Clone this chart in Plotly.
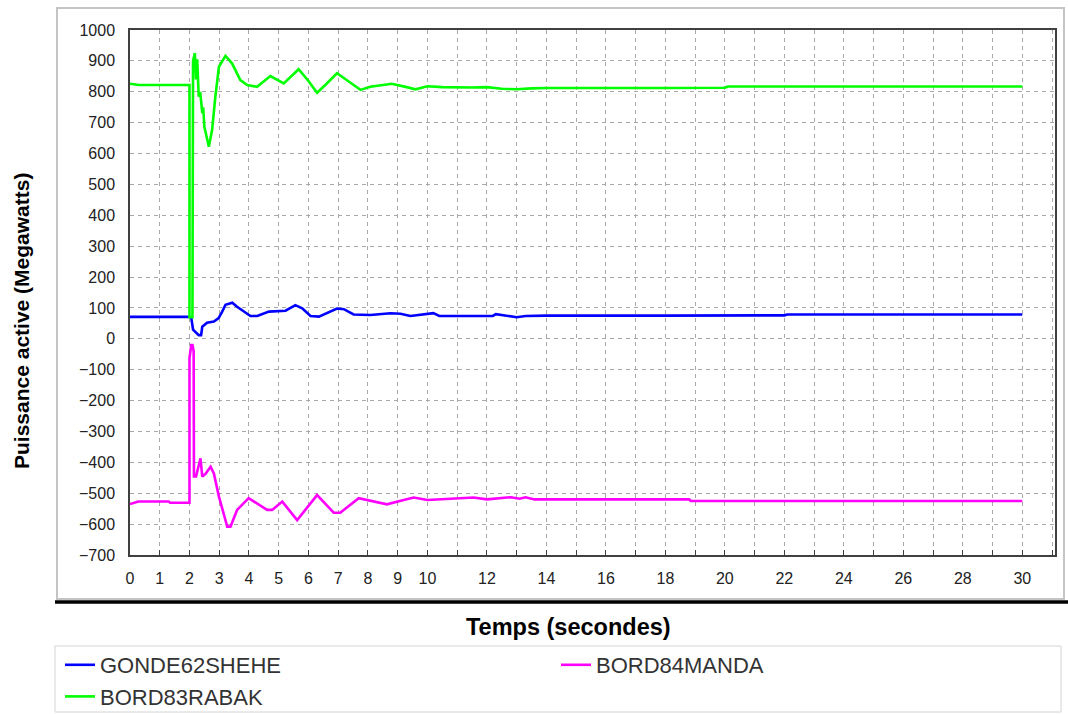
import plotly.graph_objects as go

# values (time in s, power in MW)
gonde_t = [0, 2.0, 2.06, 2.12, 2.31, 2.39, 2.43, 2.59, 2.82, 2.98, 3.10, 3.21, 3.44,
           3.60, 4.05, 4.28, 4.67, 5.23, 5.56, 5.79, 6.07, 6.35, 6.96, 7.19, 7.52,
           8.08, 8.76, 9.09, 9.43, 9.76, 10.2, 10.4, 12.2, 12.3, 12.8, 13.0, 13.3,
           14.0, 18.0, 22.0, 22.1, 30.0]
gonde_v = [71, 71, 68, 30, 12, 12, 39, 52, 56, 67, 88, 110, 117,
           104, 74, 74, 88, 91, 109, 99, 74, 72, 98, 96, 79,
           77, 83, 81, 74, 77, 83, 74, 74, 80, 74, 70, 74,
           75, 75, 76, 79, 79]

rabak_t = [0, 0.3, 2.0, 2.0, 2.1, 2.12, 2.18, 2.22, 2.26, 2.31, 2.36, 2.43, 2.46,
           2.5, 2.65, 2.76, 2.87, 2.99, 3.21, 3.43, 3.71, 3.94, 4.27, 4.72, 5.17,
           5.67, 6.0, 6.29, 6.6, 6.96, 7.4, 7.75, 8.08, 8.8, 9.3, 9.6, 10.0, 10.5,
           11.5, 12.0, 12.5, 13.0, 13.5, 14.0, 18.0, 20.0, 20.1, 25.0, 30.0]
rabak_v = [826, 822, 822, 70, 70, 900, 925, 840, 905, 784, 800, 731, 750,
           687, 622, 676, 784, 881, 916, 892, 838, 822, 816, 851, 827,
           873, 835, 797, 825, 860, 830, 806, 816, 826, 815, 808, 818, 815,
           814, 815, 810, 808, 811, 812, 812, 813, 817, 817, 817]

manda_t = [0, 0.28, 1.3, 1.35, 2.0, 2.0, 2.06, 2.1, 2.14, 2.15, 2.22, 2.31, 2.37,
           2.43, 2.54, 2.71, 2.82, 2.99, 3.27, 3.38, 3.6, 3.99, 4.61, 4.78, 5.12,
           5.62, 6.29, 6.85, 7.07, 7.69, 8.2, 8.64, 9.2, 9.54, 10.0, 10.5, 11.55,
           12.0, 12.8, 13.1, 13.3, 13.6, 14.0, 18.8, 18.85, 30.0]
manda_v = [-535, -527, -527, -531, -531, -62, -20, -20, -40, -446, -446, -414, -387,
           -446, -437, -414, -436, -511, -608, -608, -554, -516, -554, -554, -527,
           -587, -506, -563, -563, -516, -527, -536, -522, -514, -522, -520, -514,
           -520, -513, -518, -513, -520, -520, -520, -525, -525]

x_ticks = list(range(0, 32))
x_labels = [str(i) if (i <= 10 or i % 2 == 0) and i <= 30 else '' for i in x_ticks]
y_ticks = list(range(-700, 1001, 100))

FONT = 'Liberation Sans, Arial, sans-serif'

#----- GEOMETRY (window pixels) ------------------------------------------------
W, H = 1068, 714
L, R, T, B = 130, 1055, 30, 555   # plot area
def px(x): return (x - L) / (R - L)
def py(y): return (B - y) / (B - T)

fig = go.Figure()
# draw order: blue, magenta, green on top; two legends make the two columns
fig.add_trace(go.Scatter(x=gonde_t, y=gonde_v, mode='lines', name='GONDE62SHEHE',
                         line=dict(color='#0000ff', width=2.6), legend='legend', legendrank=1))
fig.add_trace(go.Scatter(x=manda_t, y=manda_v, mode='lines', name='BORD84MANDA',
                         line=dict(color='#ff00ff', width=2.6), legend='legend2'))
fig.add_trace(go.Scatter(x=rabak_t, y=rabak_v, mode='lines', name='BORD83RABAK',
                         line=dict(color='#00ff00', width=2.6), legend='legend', legendrank=2))

#----- FRAMES, SEPARATOR, LEGEND BOX -------------------------------------------
shapes = [
    dict(type='rect', xref='paper', yref='paper', x0=px(57), x1=px(1064),
         y0=py(599), y1=py(8), line=dict(color='#c4c4c4', width=2), layer='below'),
    dict(type='line', xref='paper', yref='paper', x0=px(55), x1=px(1068),
         y0=py(602), y1=py(602), line=dict(color='black', width=3.5)),
    dict(type='rect', xref='paper', yref='paper', x0=px(55), x1=px(1061),
         y0=py(712), y1=py(646), line=dict(color='#d4d4d4', width=1)),
]

# horizontal legends with container refs do not push the margins;
# the wide entrywidth makes the first legend wrap to two rows
legend_style = dict(xref='container', yref='container', xanchor='left', yanchor='top',
                    orientation='h', font=dict(size=22, color='#333333'),
                    bgcolor='rgba(0,0,0,0)', itemwidth=30)

fig.update_layout(
    width=W, height=H,
    margin=dict(l=L, r=W - R, t=T, b=H - B),
    paper_bgcolor='white', plot_bgcolor='white',
    font=dict(family=FONT, color='#222222'),
    shapes=shapes,
    showlegend=True,
    legend=dict(x=60 / W, y=1 - 644 / H, entrywidth=452, **legend_style),
    legend2=dict(x=556 / W, y=1 - 644 / H, entrywidth=200, **legend_style),
    annotations=[
        dict(text='<b>Temps (secondes)</b>', xref='paper', yref='paper',
             x=px(568), y=py(627), xanchor='center', yanchor='middle',
             showarrow=False, font=dict(size=23.5, color='black')),
        dict(text='<b>Puissance active (Megawatts)</b>', xref='paper', yref='paper',
             x=px(21), y=py(321), xanchor='center', yanchor='middle',
             textangle=-90, showarrow=False, font=dict(size=21, color='black')),
    ],
    xaxis=dict(
        range=[0, 31.1], tickvals=x_ticks, ticktext=x_labels,
        ticks='inside', ticklen=5, tickcolor='#404040',
        showgrid=True, gridcolor='#a8a8a8', griddash='4px,4px', gridwidth=1,
        showline=True, mirror=True, linecolor='#404040', linewidth=1.5,
        zeroline=False, tickfont=dict(size=16), ticklabelstandoff=8,
    ),
    yaxis=dict(
        range=[-700, 1000], tickvals=y_ticks,
        ticks='', showgrid=True, gridcolor='#a8a8a8', griddash='4px,4px', gridwidth=1,
        showline=True, mirror=True, linecolor='#404040', linewidth=1.5,
        zeroline=False, tickfont=dict(size=16), ticklabelstandoff=10,
    ),
)

# drop the default 8px page margin so the figure fills the window
fig.write_html('out.html', config={'displayModeBar': False},
               post_script="document.body.style.margin='0';")
